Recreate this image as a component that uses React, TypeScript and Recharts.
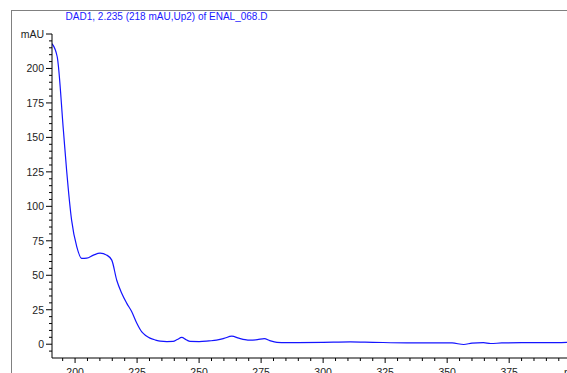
import { LineChart, Line, XAxis, YAxis } from "recharts";

// wavelength (nm) and absorbance (mAU)
const wavelengths = [
  190.7, 192.8, 195.3, 196.6, 198.6, 200.7, 202.7, 204.7, 207.4, 210.1,
  212.8, 214.8, 216.8, 218.8, 220.8, 222.9, 224.9, 226.9, 228.6, 230.2,
  232.5, 234.3, 237.0, 239.5, 241.2, 243.0, 244.8, 246.4, 250.0, 254.0,
  257.0, 260.0, 263.2, 266.0, 268.5, 270.6, 273.5, 276.3, 278.5, 281.4,
  285.0, 290.0, 300.0, 311.0, 320.0, 333.8, 345.0, 352.0, 356.7, 360.0,
  364.6, 367.5, 372.0, 380.0, 390.0, 400.0, 410.0,
];
const absorbance = [
  218, 208.5, 155, 126, 90, 70.6, 62.2, 62.4, 64.6, 66,
  64.6, 61, 46.4, 37, 29.8, 23.4, 15.2, 8.9, 6.2, 4.4,
  3.0, 2.2, 1.9, 2.0, 3.4, 4.9, 3.2, 2.0, 1.9, 2.4,
  2.9, 4.2, 5.8, 4.4, 3.3, 2.9, 3.3, 4.1, 2.6, 1.3,
  1.1, 1.2, 1.4, 1.7, 1.4, 1.0, 1.0, 0.9, -0.2, 0.8,
  1.2, 0.5, 0.9, 1.1, 1.1, 1.3, 1.4,
];

const xMajor = [200, 225, 250, 275, 300, 325, 350, 375, 400];
const yMajor = [0, 25, 50, 75, 100, 125, 150, 175, 200, 225];
const xUnitTick = 400; // shown as "nm"
const yUnitTick = 225; // shown as "mAU"

const xTicks = Array.from({ length: 43 }, (_, i) => 195 + i * 5);
const yTicks = Array.from({ length: 47 }, (_, i) => -5 + i * 5);

const data = wavelengths.map((w, i) => ({ wl: w, mau: absorbance[i] }));

const font = "'Liberation Sans', Arial, sans-serif";

const YTick = (props: any) => {
  const { x, y, payload } = props;
  const v = payload.value;
  const major = yMajor.includes(v);
  const label = v === yUnitTick ? "mAU" : String(v);
  return (
    <g>
      <line x1={x - (major ? 6 : 3)} y1={y} x2={x} y2={y} stroke="#000" />
      {major && (
        <text x={x - 8} y={y} dy={3.8} textAnchor="end" fontSize={10.5} fill="#222" fontFamily={font}>
          {label}
        </text>
      )}
    </g>
  );
};

const XTick = (props: any) => {
  const { x, y, payload } = props;
  const v = payload.value;
  const major = xMajor.includes(v);
  const label = v === xUnitTick ? "nm" : String(v);
  return (
    <g>
      <line x1={x} y1={y} x2={x} y2={y + (major ? 5 : 3)} stroke="#000" />
      {major && (
        <text x={x} y={y} dy={18} textAnchor="middle" fontSize={10.5} fill="#222" fontFamily={font}>
          {label}
        </text>
      )}
    </g>
  );
};

export default function App() {
  return (
    <div style={{ position: "fixed", left: 0, top: 0, width: 567, height: 373, overflow: "hidden", background: "#fff" }}>
      <div
        style={{
          position: "absolute",
          left: 11,
          top: 10,
          width: 700,
          height: 500,
          borderLeft: "1px solid #808080",
          borderTop: "1px solid #808080",
        }}
      />
      <div
        style={{
          position: "absolute",
          left: 8,
          top: 11,
          width: 317,
          textAlign: "center",
          fontFamily: font,
          fontSize: 10,
          color: "#1a1aff",
          whiteSpace: "nowrap",
        }}
      >
        DAD1, 2.235 (218 mAU,Up2) of ENAL_068.D
      </div>
      <div style={{ position: "absolute", left: 8, top: 8 }}>
        <LineChart width={588} height={365} data={data} margin={{ top: 26, right: 0, bottom: 0, left: 0 }}>
          <XAxis
            dataKey="wl"
            type="number"
            domain={[190.7, 410]}
            ticks={xTicks}
            tick={<XTick />}
            tickLine={false}
            tickSize={0}
            tickMargin={0}
            interval={0}
            height={15}
            axisLine={{ stroke: "#000" }}
            allowDataOverflow
          />
          <YAxis
            type="number"
            domain={[-10, 225]}
            ticks={yTicks}
            tick={<YTick />}
            tickLine={false}
            tickSize={0}
            tickMargin={0}
            interval={0}
            width={44}
            axisLine={{ stroke: "#000" }}
            allowDataOverflow
          />
          <Line
            type="monotone"
            dataKey="mau"
            stroke="#1414ff"
            strokeWidth={1.2}
            dot={false}
            isAnimationActive={false}
          />
        </LineChart>
      </div>
    </div>
  );
}
